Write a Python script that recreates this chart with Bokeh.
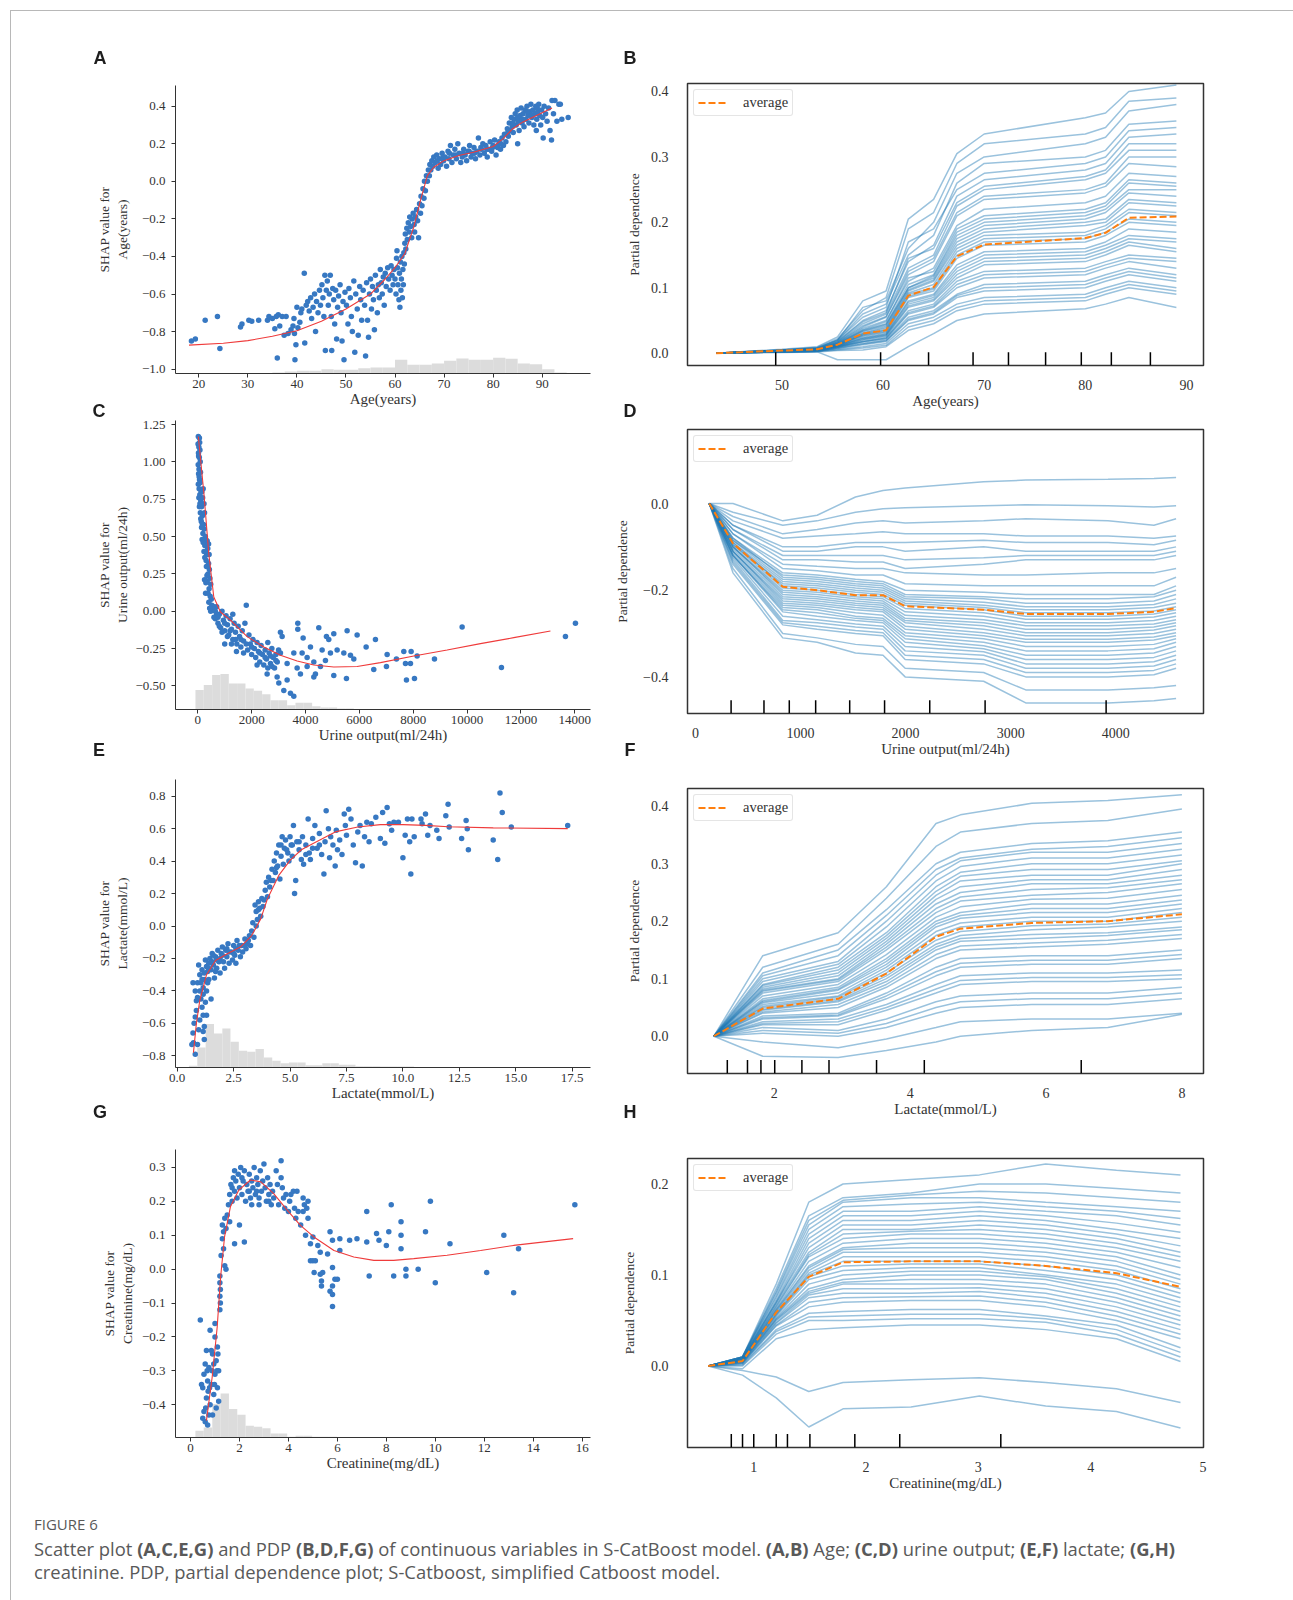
import math
from bokeh.plotting import figure
from bokeh.models import Range1d, FixedTicker, Legend, LegendItem, Div
from bokeh.layouts import column, row
from bokeh.embed import file_html
from bokeh.resources import INLINE

# ======================= DATA =======================
# ---- A: SHAP scatter, Age ----
A_pts = [(18.5,-0.85),(19.3,-0.84),(21.3,-0.74),(23.8,-0.72),(24.3,-0.89),(28.5,-0.775),(28.8,-0.76),(30.2,-0.74),(30.8,-0.745),(32.2,-0.74),
(34,-0.74),(34.3,-0.72),(35,-0.73),(35.5,-0.785),(35.8,-0.72),(36.2,-0.71),(36.5,-0.77),(36,-0.94),(37,-0.72),(37.4,-0.82),(37.8,-0.72),
(38.2,-0.81),(38.8,-0.79),(39.2,-0.77),(39.4,-0.73),(39.6,-0.95),(39.8,-0.87),(39.5,-0.81),
(40,-0.67),(40.2,-0.78),(40.6,-0.75),(40.8,-0.70),(41,-0.68),(41.5,-0.49),(41.6,-0.86),(41.9,-0.66),(42.2,-0.64),(42.5,-0.69),(42.8,-0.62),
(43,-0.73),(43.3,-0.67),(43.6,-0.60),(43.8,-0.80),(44,-0.64),(44.3,-0.70),(44.6,-0.58),(44.8,-0.66),(45.1,-0.55),(45.3,-0.62),(45.5,-0.72),
(45.7,-0.50),(45.8,-0.90),(46,-0.58),(46.2,-0.53),(46.4,-0.66),(46.6,-0.60),(46.8,-0.50),(47,-0.72),(47.1,-0.90),(47.3,-0.57),(47.5,-0.63),
(47.7,-0.76),(47.9,-0.58),(48.1,-0.84),(48.3,-0.67),(48.5,-0.61),(48.8,-0.55),(49,-0.70),(49.2,-0.85),(49.4,-0.64),(49.6,-0.95),(49.8,-0.59),
(50.1,-0.66),(50.4,-0.76),(50.6,-0.57),(50.9,-0.62),(51.1,-0.72),(51.3,-0.80),(51.6,-0.53),(51.8,-0.91),(52,-0.60),(52.3,-0.68),(52.5,-0.82),
(52.8,-0.56),(53,-0.63),(53.2,-0.74),(53.5,-0.58),(53.8,-0.66),(54,-0.93),(54.2,-0.54),(54.4,-0.74),(54.6,-0.83),(54.8,-0.60),(55,-0.52),
(55.2,-0.68),(55.4,-0.56),(55.6,-0.63),(55.8,-0.79),(56,-0.50),(56.2,-0.58),(56.4,-0.70),(56.6,-0.55),(56.8,-0.62),(57,-0.47),(57.2,-0.54),
(57.4,-0.60),(57.6,-0.51),(57.8,-0.66),(58,-0.49),(58.2,-0.56),(58.5,-0.46),(58.7,-0.52),(59,-0.58),(59.2,-0.45),(59.4,-0.50),(59.6,-0.55),
(59.8,-0.47),(60,-0.52),(60.2,-0.60),(60.3,-0.41),(60.4,-0.37),(60.5,-0.46),(60.6,-0.55),(60.8,-0.63),(60.9,-0.49),(61,-0.67),(61.1,-0.43),
(61.2,-0.58),(61.3,-0.52),(61.4,-0.40),(61.5,-0.62),(61.6,-0.47),(61.7,-0.55),(61.8,-0.38),(61.9,-0.44),
(62,-0.33),(62.1,-0.28),(62.2,-0.36),(62.4,-0.25),(62.5,-0.31),(62.7,-0.22),(62.9,-0.27),(63,-0.19),(63.2,-0.24),(63.4,-0.30),(63.5,-0.20),
(63.7,-0.17),(63.9,-0.23),(64,-0.27),(64.2,-0.19),(64.4,-0.15),(64.6,-0.21),(64.8,-0.30),(65,-0.12),(65.2,-0.17),(65.3,-0.08),(65.5,-0.13),
(65.7,-0.04),(65.9,-0.09),(66,0.0),(66.2,-0.05),(66.4,0.03),(66.6,0.0),(66.8,0.06),(67,0.03),(67.1,0.09),(67.3,0.06),(67.5,0.11),(67.7,0.08),
(67.9,0.13),(68.2,0.10),(68.5,0.14),(68.8,0.07),(69,0.12),(69.3,0.09),(69.6,0.15),(69.9,0.11),(70.2,0.13),(70.5,0.08),(70.8,0.16),(71,0.12),
(71.3,0.19),(71.6,0.10),(71.9,0.14),(72.2,0.17),(72.5,0.12),(72.8,0.20),(73.1,0.15),(73.4,0.10),(73.7,0.13),(74,0.17),(74.3,0.14),(74.6,0.11),
(74.9,0.16),(75.2,0.19),(75.5,0.13),(75.8,0.15),(76.1,0.18),(76.4,0.12),(76.7,0.16),(77,0.23),(77.3,0.14),(77.6,0.17),(77.9,0.20),(78.2,0.15),
(78.5,0.19),(78.8,0.13),(79.1,0.17),(79.4,0.21),(79.7,0.16),(80,0.19),(80.3,0.22),(80.6,0.14),(80.9,0.18),(81.2,0.21),(81.5,0.17),(81.8,0.23),
(82.1,0.19),(82.3,0.25),(82.6,0.21),(82.9,0.28),(83.1,0.24),(83.3,0.31),(83.5,0.27),(83.7,0.34),(83.9,0.29),(84.1,0.26),(84.3,0.33),(84.5,0.36),
(84.7,0.30),(84.9,0.38),(85.1,0.32),(85.3,0.27),(85.5,0.35),(85.7,0.39),(85.9,0.31),(86.1,0.36),(86.3,0.29),(86.5,0.38),(86.7,0.33),(86.9,0.40),
(87.1,0.35),(87.3,0.31),(87.5,0.37),(87.7,0.41),(87.9,0.34),(88.1,0.38),(88.3,0.30),(88.5,0.36),(88.7,0.40),(88.9,0.33),(89.1,0.37),(89.3,0.41),
(89.5,0.35),(89.7,0.30),(89.9,0.38),(90.1,0.34),(90.4,0.40),(90.7,0.36),(91,0.32),(91.3,0.39),(91.6,0.27),(91.9,0.22),(92,0.43),(92.3,0.36),
(92.6,0.43),(93,0.32),(93.4,0.41),(93.7,0.41),(94,0.33),(95.3,0.34),(90.2,0.23),(88.8,0.27),(85,0.20),
(68.6,0.11),(69.8,0.13),(71.1,0.15),(72.4,0.14),(73.9,0.15),(75.1,0.16),(76.2,0.15),(77.5,0.18),(78.7,0.17),(79.9,0.18),(81.0,0.19),(81.6,0.20),
(83.0,0.26),(84.0,0.31),(85.0,0.34),(86.0,0.33),(87.0,0.37),(88.0,0.35),(89.0,0.39)]
A_fit_x = [18, 25, 30, 35, 40, 45, 50, 55, 58, 60, 62, 63.8, 65.2, 66.6, 67.9, 70, 73, 76, 80, 82, 84, 86, 88, 92]
A_fit_y = [-0.872, -0.862, -0.848, -0.825, -0.795, -0.745, -0.68, -0.60, -0.52, -0.46, -0.385, -0.245, -0.10, 0.03, 0.075, 0.11, 0.137, 0.155, 0.185, 0.226, 0.28, 0.315, 0.34, 0.39]
A_hist_edges = [35, 37.5, 40, 42.5, 45, 47.5, 50, 52.5, 55, 57.5, 60, 62.5, 65, 67.5, 70, 72.5, 75, 77.5, 80, 82.5, 85, 87.5, 90, 92.5, 95]
A_hist_h = [3, 6, 8, 8, 13, 11, 11, 16, 18, 18, 41, 26, 26, 30, 38, 45, 41, 41, 47, 44, 30, 28, 13, 3]
A_hist_scale = 863

# ---- C: SHAP scatter, Urine output ----
C_pts = [(20,1.17),(60,1.16),(10,1.12),(40,1.10),(70,1.13),(25,1.06),(55,1.03),(80,1.08),(15,0.98),(45,0.95),(90,1.00),(30,0.92),(65,0.88),
(100,0.93),(20,0.85),(50,0.82),(85,0.86),(120,0.80),(40,0.76),(75,0.78),(110,0.74),(150,0.80),(60,0.70),(140,0.70),(95,0.66),(180,0.76),
(200,0.82),(230,0.72),(170,0.64),(130,0.60),(210,0.58),(250,0.66),(190,0.52),(240,0.55),(280,0.50),(160,0.48),(300,0.48),(260,0.44),
(320,0.44),(350,0.47),(290,0.40),(330,0.38),(370,0.42),(400,0.45),(310,0.34),(360,0.30),(400,0.32),(420,0.38),(380,0.25),(430,0.28),
(350,0.20),(300,0.19),(250,0.21),(290,0.12),(450,0.22),(420,0.15),(480,0.18),(460,0.10),(500,0.08),(520,0.04),(550,0.02),(480,0.00),
(600,0.03),(650,0.0),(700,-0.02),(650,-0.05),(700,0.03),(750,-0.08),(800,-0.02),(850,-0.11),(900,0.0),(950,-0.06),(1000,-0.13),(1050,-0.03),
(1100,-0.09),(1150,-0.16),(1200,-0.05),(1250,-0.12),(1300,-0.19),(1350,-0.08),(1400,-0.14),(1450,-0.22),(1500,-0.10),(1550,-0.17),(1600,-0.24),
(1650,-0.13),(1700,-0.20),(1750,-0.08),(1800,0.04),(1850,-0.26),(1900,-0.16),(1950,-0.22),(2000,-0.29),(2050,-0.19),(2100,-0.25),(2150,-0.31),
(2200,-0.21),(2250,-0.27),(2300,-0.34),(2350,-0.23),(2400,-0.29),(2450,-0.36),(2500,-0.26),(2550,-0.32),(2600,-0.21),(2650,-0.28),(2700,-0.35),
(2750,-0.25),(2800,-0.31),(2850,-0.38),(2900,-0.29),(2950,-0.34),(3000,-0.26),(1000,-0.22),(1300,-0.02),(800,-0.10),(1436,-0.27),(1100,-0.17),
(1700,-0.28),(2200,-0.36),(2600,-0.38),(900,-0.14),(1250,-0.22),(30,1.04),(50,0.90),(80,0.72),(110,0.62),(140,0.56),(170,0.58),(200,0.46),
(230,0.40),(260,0.36),(320,0.30),(340,0.24),(380,0.12),(410,0.06),(440,0.02),(600,-0.04),(750,-0.04),(1000,-0.08),(1200,-0.13),
(1400,-0.19),(1600,-0.19),(1800,-0.22),(2000,-0.24),(2300,-0.28),(2500,-0.31),(2700,-0.30),(2900,-0.33),
(3070,-0.14),(3132,-0.17),(3713,-0.08),(3713,-0.12),(4493,-0.11),(4778,-0.17),(5050,-0.15),(5545,-0.13),(5917,-0.16),(6597,-0.19),(6251,-0.24),
(6535,-0.39),(5793,-0.32),(5520,-0.45),(5050,-0.43),(3911,-0.18),(3565,-0.28),(4060,-0.31),(4308,-0.34),(4617,-0.26),(4926,-0.28),(3317,-0.46),
(3008,-0.48),(3441,-0.55),(3194,-0.53),(3565,-0.57),(2946,-0.44),(3812,-0.42),(4308,-0.44),(4555,-0.37),(4864,-0.19),(5174,-0.26),(5422,-0.28),
(5669,-0.295),(3317,-0.35),(3689,-0.38),(4060,-0.37),(4369,-0.42),(4740,-0.33),(2760,-0.37),(2575,-0.42),(3070,-0.28),(4184,-0.24),(3874,-0.28),
(7031,-0.29),(7006,-0.37),(7377,-0.32),(7650,-0.27),(7922,-0.27),(8145,-0.30),(8789,-0.32),(7712,-0.35),(7898,-0.35),(7749,-0.46),(8046,-0.45),
(9816,-0.105),(11276,-0.377),(13653,-0.17),(14024,-0.08)]
C_fit_x = [20, 223, 408, 594, 842, 1213, 1832, 2451, 3070, 3689, 4308, 5050, 5917, 6783, 8021, 9259, 10497, 11734, 13096]
C_fit_y = [1.17, 0.797, 0.385, 0.095, -0.005, -0.06, -0.17, -0.24, -0.295, -0.333, -0.36, -0.373, -0.37, -0.344, -0.30, -0.26, -0.217, -0.177, -0.132]
C_hist_edges = [-87, 222, 532, 841, 1151, 1460, 1770, 2079, 2389, 2698, 3008, 3317, 3627, 3936, 4246, 4556, 4865, 5175, 5484, 5794]
C_hist_h = [58, 73, 103, 106, 78, 78, 63, 56, 46, 28, 28, 13, 20, 20, 10, 6, 6, 3, 3]
C_hist_scale = 865

# ---- E: SHAP scatter, Lactate ----
E_pts = [(0.8,-0.79),(0.7,-0.66),(0.65,-0.73),(0.72,-0.72),(0.75,-0.60),(0.8,-0.56),(0.9,-0.73),(0.85,-0.52),(0.95,-0.64),(0.7,-0.35),
(0.8,-0.40),(0.9,-0.35),(0.85,-0.46),(1.0,-0.58),(1.05,-0.45),(1.0,-0.30),(0.95,-0.24),(1.1,-0.50),(1.15,-0.38),(1.2,-0.62),(1.1,-0.27),
(1.25,-0.47),(1.2,-0.33),(1.3,-0.55),(1.3,-0.40),(1.35,-0.28),(1.25,-0.21),(1.4,-0.33),(1.45,-0.20),(1.5,-0.45),(1.5,-0.27),(1.55,-0.17),
(1.6,-0.24),(1.65,-0.32),(1.7,-0.19),(1.75,-0.26),(1.8,-0.15),(1.85,-0.22),(1.9,-0.29),(1.95,-0.17),(2.0,-0.13),(2.05,-0.22),(2.1,-0.26),
(2.15,-0.15),(2.2,-0.19),(2.25,-0.11),(2.3,-0.23),(2.4,-0.16),(2.45,-0.21),(2.5,-0.12),(2.55,-0.18),(2.6,-0.23),(2.65,-0.09),(2.7,-0.15),
(2.8,-0.19),(2.85,-0.12),(2.9,-0.16),(3.0,-0.08),(3.05,-0.14),(3.1,-0.11),(3.2,-0.06),(3.25,-0.12),(3.3,-0.03),(3.35,0.02),(3.4,-0.07),
(3.45,0.13),(3.5,0.09),(3.55,0.04),(3.6,0.15),(3.65,0.11),(3.7,0.06),(3.75,0.17),(3.8,0.12),(3.9,0.22),(3.95,0.27),(4.0,0.18),(4.05,0.30),
(4.1,0.24),(4.2,0.35),(4.25,0.28),(4.3,0.40),(4.35,0.33),(4.4,0.45),(4.45,0.37),(4.5,0.50),(4.55,0.29),(4.6,0.43),(4.65,0.55),(4.7,0.38),
(4.75,0.48),(4.8,0.53),(4.9,0.45),(4.95,0.40),(5.0,0.55),(5.05,0.50),(5.1,0.43),(5.15,0.62),(5.2,0.20),(5.25,0.28),(5.3,0.52),(5.4,0.47),
(5.5,0.41),(5.55,0.55),(5.6,0.38),(5.7,0.50),(5.8,0.66),(5.85,0.45),(5.9,0.41),(6.0,0.54),(6.1,0.62),(6.2,0.48),(6.3,0.57),(6.4,0.44),
(6.5,0.32),(6.55,0.52),(6.6,0.71),(6.7,0.60),(6.75,0.42),(6.8,0.55),(6.9,0.50),(7.0,0.37),(7.05,0.59),(7.1,0.47),(7.2,0.53),(7.3,0.44),
(7.4,0.69),(7.45,0.62),(7.5,0.56),(7.6,0.72),(7.7,0.66),(7.8,0.50),(7.9,0.39),(8.0,0.58),(8.1,0.62),(8.2,0.37),(8.3,0.55),(8.4,0.64),
(8.5,0.52),(8.6,0.63),(8.8,0.67),(9.0,0.54),(9.1,0.70),(9.2,0.51),(9.3,0.73),(9.4,0.63),(9.5,0.59),(9.6,0.64),(9.8,0.64),(10.0,0.42),
(10.1,0.56),(10.2,0.66),(10.3,0.52),(10.35,0.32),(10.4,0.66),(10.5,0.55),(10.8,0.66),(10.85,0.63),(11.0,0.69),(11.1,0.56),(11.2,0.62),
(11.5,0.59),(11.6,0.54),(11.9,0.68),(12.0,0.75),(12.05,0.61),(12.6,0.54),(12.8,0.65),(12.85,0.60),(12.9,0.47),(14.0,0.53),(14.2,0.41),
(14.3,0.82),(14.4,0.70),(14.8,0.61),(17.3,0.62),(1.05,-0.35),(1.15,-0.42),(1.2,-0.29),(1.3,-0.25),(1.35,-0.35),(1.4,-0.23),(1.0,-0.40),
(1.1,-0.33),(0.9,-0.44),(1.15,-0.55),(1.2,-0.70),(1.15,-0.65),(1.6,-0.18),(1.9,-0.20),(2.2,-0.14),(2.6,-0.14),(3.0,-0.12),(1.7,-0.28),
(1.4,-0.26),(1.55,-0.22),(1.75,-0.21),(2.0,-0.18),(2.3,-0.16),(2.5,-0.17),(2.75,-0.12),(3.15,-0.09),(3.5,0.0),(3.6,0.10),(3.85,0.16),
(4.15,0.28),(4.4,0.36),(4.6,0.50),(4.85,0.47),(5.1,0.50),(5.4,0.52),(5.7,0.44),(6.0,0.48),(6.3,0.50)]
E_fit_x = [0.72, 0.85, 1.0, 1.3, 1.7, 2.2, 2.8, 3.3, 3.7, 4.0, 4.5, 5.0, 5.5, 6.0, 7.0, 8.0, 9.0, 10.0, 11.0, 12.0, 14.0, 17.3]
E_fit_y = [-0.78, -0.60, -0.46, -0.30, -0.213, -0.172, -0.13, -0.059, 0.044, 0.168, 0.312, 0.405, 0.47, 0.507, 0.58, 0.61, 0.625, 0.625, 0.62, 0.612, 0.605, 0.60]
E_hist_edges = [0.52, 0.89, 1.26, 1.63, 2.0, 2.36, 2.73, 3.1, 3.47, 3.84, 4.21, 4.58, 4.95, 5.32, 5.69, 6.06, 6.43, 6.8, 7.16, 7.53, 7.9, 8.27, 8.64, 9.01, 9.38, 9.75, 10.12, 10.49]
E_hist_h = [5, 60, 130, 102, 117, 77, 50, 47, 55, 30, 20, 13, 15, 15, 7, 7, 13, 13, 8, 8, 4, 4, 4, 3, 3, 3, 3]
E_hist_scale = 862

# ---- G: SHAP scatter, Creatinine ----
G_pts = [(0.4,-0.15),(0.5,-0.35),(0.55,-0.42),(0.6,-0.28),(0.6,-0.45),(0.65,-0.38),(0.7,-0.33),(0.7,-0.46),(0.75,-0.29),(0.8,-0.18),
(0.8,-0.40),(0.85,-0.34),(0.9,-0.25),(0.9,-0.43),(0.95,-0.37),(1.0,-0.20),(1.0,-0.31),(1.0,-0.16),(1.05,-0.41),(1.05,-0.27),(1.1,-0.35),
(1.1,-0.23),(1.15,-0.30),(1.15,-0.39),(0.55,-0.31),(0.45,-0.34),(0.65,-0.24),(0.75,-0.43),(0.85,-0.24),(0.95,-0.28),(0.5,-0.44),(0.72,-0.36),
(0.62,-0.41),(0.68,-0.30),(0.78,-0.35),(0.88,-0.30),(0.98,-0.34),(1.08,-0.30),(1.12,-0.25),
(1.2,-0.04),(1.2,-0.08),(1.2,-0.12),(1.22,-0.06),(1.22,-0.10),(1.2,-0.02),
(1.25,0.04),(1.3,0.09),(1.3,0.13),(1.35,0.06),(1.4,0.01),(1.45,0.0),(1.35,0.11),(1.4,0.15),(1.45,0.12),(1.5,0.16),(1.55,0.19),(1.6,0.14),
(1.6,0.22),(1.65,0.25),(1.7,0.20),(1.75,0.27),(1.8,0.23),(1.8,0.29),(1.85,0.26),(1.9,0.21),(1.95,0.28),(2.0,0.13),(1.8,0.075),(2.2,0.08),
(2.0,0.24),(2.05,0.30),(2.1,0.22),(2.15,0.26),(2.2,0.29),(2.25,0.20),(2.3,0.25),(2.35,0.23),(2.4,0.28),(2.45,0.21),(2.5,0.26),(2.55,0.24),
(2.6,0.30),(2.65,0.22),(2.7,0.27),(2.75,0.25),(2.8,0.21),(2.85,0.29),(2.9,0.23),(2.95,0.26),(3.0,0.31),(3.05,0.24),(3.1,0.20),(3.15,0.27),
(3.2,0.22),(3.25,0.25),(3.3,0.19),(3.35,0.23),(3.4,0.21),(3.5,0.29),(3.55,0.25),(3.6,0.19),(3.7,0.32),(3.7,0.27),(3.75,0.24),(3.8,0.21),
(3.85,0.18),(3.9,0.22),(4.0,0.17),(4.05,0.20),(4.1,0.22),(4.2,0.23),(4.25,0.18),(4.3,0.15),(4.35,0.23),(4.4,0.17),(4.5,0.13),(4.6,0.21),
(4.65,0.19),(4.75,0.18),(4.8,0.20),(4.8,0.15),(4.6,0.17),(2.5,0.19),(2.8,0.19),(3.2,0.20),(1.7,0.24),(2.1,0.27),(2.4,0.23),(2.7,0.23),
(4.7,0.10),(4.9,0.075),(5.0,0.095),(4.9,0.025),(5.0,0.025),(5.1,0.025),(5.05,-0.01),(5.2,0.07),(5.3,0.05),(5.3,-0.015),(5.35,-0.035),
(5.35,-0.05),(5.4,-0.01),(5.6,0.045),(5.7,0.11),(5.7,-0.065),(5.8,0.085),(5.8,0.005),(5.8,-0.05),(5.8,-0.075),(5.8,-0.11),(5.9,-0.03),
(6.0,-0.03),(6.1,0.09),(6.1,0.055),(6.5,0.085),(6.8,0.09),
(7.2,0.17),(7.2,0.08),(7.3,-0.02),(7.6,0.105),(7.7,0.085),(8.0,0.07),(8.1,0.11),(8.2,0.19),(8.3,-0.02),(8.6,0.14),(8.6,0.10),(8.6,0.06),
(8.8,0.0),(8.8,-0.02),(9.3,0.0),(9.6,0.11),(9.8,0.20),(10.0,-0.04),(10.6,0.075),(12.1,-0.01),(12.8,0.10),(13.2,-0.07),(13.4,0.06),(15.7,0.19)]
G_fit_x = [0.65, 0.885, 1.09, 1.23, 1.39, 1.63, 1.97, 2.45, 2.86, 3.40, 3.95, 4.49, 5.04, 5.86, 6.67, 7.49, 8.3, 9.12, 10.48, 11.85, 13.2, 15.63]
G_fit_y = [-0.447, -0.319, -0.171, -0.023, 0.095, 0.184, 0.233, 0.263, 0.258, 0.223, 0.174, 0.129, 0.095, 0.055, 0.036, 0.026, 0.026, 0.031, 0.041, 0.055, 0.070, 0.09]
G_hist_edges = [0.2, 0.54, 0.89, 1.23, 1.57, 1.91, 2.25, 2.59, 2.93, 3.27, 3.61, 3.95, 4.29, 4.63, 4.97, 5.31, 5.65, 5.99]
G_hist_h = [20, 30, 100, 132, 85, 68, 35, 32, 28, 12, 12, 2, 5, 5, 2, 2, 2]
G_hist_scale = 862

# ---- B: PDP, Age ----
B_grid = [43.5, 50, 53.5, 55.5, 58, 60.3, 62.5, 65, 67.3, 70, 80, 82, 84.3, 89]
B_avg = [0, 0.004, 0.006, 0.013, 0.030, 0.035, 0.088, 0.101, 0.148, 0.166, 0.176, 0.184, 0.207, 0.209]
B_ice = [
 [0, 0.006, 0.01, 0.025, 0.08, 0.095, 0.205, 0.235, 0.305, 0.335, 0.36, 0.367, 0.40, 0.41],
 [0, 0.005, 0.009, 0.022, 0.065, 0.085, 0.19, 0.215, 0.29, 0.32, 0.335, 0.345, 0.385, 0.39],
 [0, 0.005, 0.008, 0.02, 0.07, 0.08, 0.16, 0.20, 0.275, 0.30, 0.32, 0.33, 0.37, 0.38],
 [0, 0.005, 0.008, 0.02, 0.06, 0.075, 0.15, 0.18, 0.26, 0.29, 0.30, 0.31, 0.35, 0.355],
 [0, 0.005, 0.008, 0.02, 0.055, 0.07, 0.17, 0.19, 0.25, 0.275, 0.29, 0.30, 0.34, 0.345],
 [0, 0.004, 0.007, 0.018, 0.05, 0.065, 0.14, 0.165, 0.24, 0.265, 0.28, 0.29, 0.33, 0.335],
 [0, 0.004, 0.007, 0.018, 0.048, 0.062, 0.145, 0.16, 0.23, 0.255, 0.27, 0.28, 0.32, 0.32],
 [0, 0.004, 0.007, 0.017, 0.045, 0.06, 0.13, 0.15, 0.225, 0.25, 0.265, 0.275, 0.31, 0.31],
 [0, 0.004, 0.006, 0.016, 0.042, 0.056, 0.125, 0.145, 0.215, 0.24, 0.25, 0.26, 0.30, 0.30],
 [0, 0.004, 0.006, 0.016, 0.04, 0.055, 0.12, 0.14, 0.21, 0.235, 0.245, 0.255, 0.29, 0.285],
 [0, 0.004, 0.006, 0.015, 0.038, 0.05, 0.11, 0.13, 0.195, 0.22, 0.23, 0.24, 0.275, 0.27],
 [0, 0.004, 0.006, 0.015, 0.036, 0.048, 0.115, 0.125, 0.19, 0.21, 0.22, 0.23, 0.265, 0.26],
 [0, 0.004, 0.006, 0.014, 0.035, 0.045, 0.105, 0.12, 0.185, 0.205, 0.215, 0.225, 0.26, 0.255],
 [0, 0.003, 0.006, 0.014, 0.034, 0.044, 0.10, 0.118, 0.18, 0.20, 0.21, 0.22, 0.25, 0.25],
 [0, 0.003, 0.006, 0.013, 0.033, 0.042, 0.10, 0.115, 0.175, 0.195, 0.205, 0.215, 0.245, 0.24],
 [0, 0.003, 0.005, 0.013, 0.031, 0.04, 0.097, 0.112, 0.17, 0.19, 0.20, 0.205, 0.235, 0.23],
 [0, 0.003, 0.005, 0.013, 0.03, 0.038, 0.095, 0.11, 0.165, 0.185, 0.195, 0.20, 0.23, 0.225],
 [0, 0.003, 0.005, 0.012, 0.029, 0.036, 0.092, 0.105, 0.16, 0.18, 0.185, 0.195, 0.22, 0.215],
 [0, 0.003, 0.005, 0.012, 0.028, 0.035, 0.09, 0.10, 0.155, 0.175, 0.18, 0.19, 0.215, 0.21],
 [0, 0.003, 0.005, 0.012, 0.027, 0.033, 0.087, 0.098, 0.15, 0.17, 0.175, 0.185, 0.205, 0.20],
 [0, 0.003, 0.005, 0.012, 0.026, 0.032, 0.085, 0.095, 0.145, 0.165, 0.17, 0.18, 0.20, 0.195],
 [0, 0.003, 0.005, 0.011, 0.024, 0.03, 0.08, 0.09, 0.135, 0.155, 0.16, 0.17, 0.19, 0.185],
 [0, 0.003, 0.004, 0.011, 0.023, 0.029, 0.078, 0.088, 0.13, 0.15, 0.155, 0.165, 0.18, 0.175],
 [0, 0.003, 0.004, 0.011, 0.022, 0.028, 0.075, 0.085, 0.125, 0.145, 0.15, 0.16, 0.175, 0.17],
 [0, 0.003, 0.004, 0.01, 0.021, 0.027, 0.072, 0.082, 0.12, 0.14, 0.145, 0.155, 0.17, 0.16],
 [0, 0.003, 0.004, 0.01, 0.02, 0.026, 0.07, 0.08, 0.115, 0.135, 0.14, 0.15, 0.165, 0.155],
 [0, 0.002, 0.004, 0.01, 0.018, 0.024, 0.065, 0.075, 0.11, 0.125, 0.13, 0.14, 0.15, 0.145],
 [0, 0.002, 0.004, 0.009, 0.018, 0.023, 0.062, 0.072, 0.105, 0.12, 0.125, 0.135, 0.145, 0.14],
 [0, 0.002, 0.004, 0.009, 0.017, 0.022, 0.06, 0.07, 0.10, 0.115, 0.12, 0.13, 0.14, 0.13],
 [0, 0.002, 0.003, 0.008, 0.015, 0.02, 0.055, 0.065, 0.09, 0.105, 0.11, 0.12, 0.13, 0.12],
 [0, 0.002, 0.003, 0.008, 0.014, 0.019, 0.052, 0.062, 0.088, 0.10, 0.105, 0.115, 0.125, 0.115],
 [0, 0.002, 0.003, 0.007, 0.013, 0.018, 0.05, 0.06, 0.085, 0.095, 0.10, 0.11, 0.12, 0.11],
 [0, 0.002, 0.003, 0.006, 0.01, 0.015, 0.045, 0.055, 0.075, 0.085, 0.09, 0.10, 0.11, 0.10],
 [0, 0.002, 0.003, 0.005, 0.008, 0.012, 0.04, 0.05, 0.07, 0.08, 0.085, 0.095, 0.105, 0.095],
 [0, 0.002, 0.002, 0.004, 0.005, 0.01, 0.035, 0.045, 0.065, 0.075, 0.08, 0.09, 0.10, 0.09],
 [0, 0.001, 0.002, -0.01, -0.01, -0.01, 0.01, 0.03, 0.05, 0.06, 0.068, 0.075, 0.085, 0.07]]
B_deciles = [49.39, 59.76, 64.5, 68.9, 72.4, 76.07, 79.6, 82.57, 86.43]

# ---- D: PDP, Urine output ----
D_grid = [131, 357, 831, 1158, 1523, 1785, 1996, 2743, 3144, 3927, 4364, 4575]
D_avg = [0, -0.092, -0.192, -0.200, -0.2115, -0.2115, -0.237, -0.245, -0.255, -0.255, -0.25, -0.241]
D_ice = [
 [0, 0.0, -0.04, -0.027, 0.015, 0.03, 0.036, 0.05, 0.054, 0.056, 0.058, 0.06],
 [0, -0.02, -0.05, -0.04, -0.02, -0.012, -0.01, -0.005, -0.003, -0.005, -0.008, -0.005],
 [0, -0.03, -0.07, -0.06, -0.045, -0.04, -0.045, -0.04, -0.035, -0.04, -0.05, -0.035],
 [0, -0.04, -0.08, -0.075, -0.07, -0.065, -0.07, -0.07, -0.075, -0.075, -0.08, -0.075],
 [0, -0.05, -0.10, -0.10, -0.09, -0.09, -0.09, -0.085, -0.09, -0.09, -0.095, -0.085],
 [0, -0.05, -0.11, -0.11, -0.10, -0.10, -0.11, -0.10, -0.11, -0.11, -0.11, -0.10],
 [0, -0.06, -0.12, -0.12, -0.12, -0.12, -0.13, -0.125, -0.12, -0.12, -0.12, -0.11],
 [0, -0.06, -0.13, -0.13, -0.135, -0.135, -0.15, -0.14, -0.13, -0.13, -0.13, -0.12],
 [0, -0.07, -0.14, -0.145, -0.15, -0.15, -0.16, -0.165, -0.165, -0.16, -0.16, -0.15],
 [0, -0.07, -0.15, -0.155, -0.165, -0.165, -0.185, -0.19, -0.19, -0.19, -0.19, -0.17],
 [0, -0.08, -0.16, -0.165, -0.175, -0.18, -0.20, -0.205, -0.21, -0.21, -0.21, -0.19],
 [0, -0.085, -0.165, -0.17, -0.18, -0.185, -0.21, -0.215, -0.22, -0.22, -0.215, -0.20],
 [0, -0.08, -0.17, -0.175, -0.185, -0.19, -0.215, -0.22, -0.23, -0.23, -0.225, -0.21],
 [0, -0.085, -0.175, -0.18, -0.19, -0.195, -0.22, -0.228, -0.238, -0.238, -0.233, -0.22],
 [0, -0.09, -0.18, -0.185, -0.195, -0.20, -0.225, -0.235, -0.245, -0.245, -0.24, -0.23],
 [0, -0.095, -0.185, -0.19, -0.20, -0.205, -0.23, -0.24, -0.252, -0.252, -0.248, -0.238],
 [0, -0.09, -0.19, -0.195, -0.205, -0.21, -0.235, -0.245, -0.26, -0.26, -0.255, -0.245],
 [0, -0.095, -0.195, -0.20, -0.21, -0.215, -0.242, -0.252, -0.267, -0.267, -0.262, -0.252],
 [0, -0.10, -0.20, -0.205, -0.215, -0.22, -0.25, -0.26, -0.275, -0.275, -0.27, -0.26],
 [0, -0.10, -0.205, -0.21, -0.22, -0.225, -0.258, -0.268, -0.282, -0.282, -0.278, -0.268],
 [0, -0.10, -0.21, -0.215, -0.225, -0.23, -0.265, -0.275, -0.29, -0.29, -0.285, -0.275],
 [0, -0.105, -0.215, -0.22, -0.23, -0.235, -0.27, -0.282, -0.298, -0.298, -0.292, -0.282],
 [0, -0.11, -0.22, -0.225, -0.235, -0.24, -0.275, -0.29, -0.305, -0.305, -0.30, -0.29],
 [0, -0.11, -0.225, -0.23, -0.24, -0.245, -0.283, -0.298, -0.313, -0.313, -0.308, -0.298],
 [0, -0.11, -0.23, -0.235, -0.245, -0.25, -0.29, -0.305, -0.32, -0.32, -0.315, -0.305],
 [0, -0.115, -0.235, -0.24, -0.252, -0.258, -0.298, -0.312, -0.33, -0.33, -0.325, -0.312],
 [0, -0.12, -0.24, -0.245, -0.26, -0.265, -0.305, -0.32, -0.34, -0.34, -0.335, -0.32],
 [0, -0.12, -0.245, -0.252, -0.265, -0.27, -0.312, -0.328, -0.35, -0.35, -0.345, -0.33],
 [0, -0.12, -0.25, -0.26, -0.27, -0.275, -0.32, -0.335, -0.36, -0.36, -0.355, -0.34],
 [0, -0.125, -0.26, -0.268, -0.278, -0.283, -0.33, -0.342, -0.37, -0.37, -0.365, -0.35],
 [0, -0.13, -0.27, -0.275, -0.285, -0.29, -0.34, -0.35, -0.38, -0.38, -0.375, -0.36],
 [0, -0.135, -0.275, -0.283, -0.293, -0.298, -0.35, -0.36, -0.39, -0.39, -0.385, -0.37],
 [0, -0.14, -0.28, -0.29, -0.30, -0.305, -0.36, -0.37, -0.40, -0.40, -0.395, -0.38],
 [0, -0.15, -0.30, -0.31, -0.325, -0.33, -0.38, -0.39, -0.43, -0.43, -0.425, -0.42],
 [0, -0.16, -0.31, -0.32, -0.345, -0.35, -0.40, -0.41, -0.46, -0.46, -0.455, -0.45]]
D_deciles = [339, 652, 893, 1144, 1468, 1800, 2230, 2757, 3909]

# ---- F: PDP, Lactate ----
F_grid = [1.11, 1.83, 2.94, 3.65, 4.38, 4.74, 5.79, 6.91, 8.0]
F_avg = [0, 0.048, 0.065, 0.109, 0.173, 0.187, 0.197, 0.200, 0.212]
F_ice = [
 [0, 0.14, 0.18, 0.26, 0.37, 0.385, 0.405, 0.41, 0.42],
 [0, 0.12, 0.16, 0.24, 0.33, 0.355, 0.37, 0.375, 0.395],
 [0, 0.11, 0.15, 0.22, 0.30, 0.32, 0.335, 0.34, 0.355],
 [0, 0.105, 0.14, 0.21, 0.29, 0.31, 0.325, 0.33, 0.345],
 [0, 0.10, 0.13, 0.20, 0.28, 0.305, 0.32, 0.32, 0.335],
 [0, 0.095, 0.125, 0.19, 0.27, 0.295, 0.31, 0.31, 0.325],
 [0, 0.09, 0.12, 0.18, 0.26, 0.285, 0.30, 0.30, 0.315],
 [0, 0.088, 0.115, 0.175, 0.252, 0.278, 0.29, 0.29, 0.305],
 [0, 0.085, 0.11, 0.17, 0.245, 0.27, 0.28, 0.28, 0.30],
 [0, 0.082, 0.105, 0.165, 0.238, 0.26, 0.272, 0.272, 0.29],
 [0, 0.08, 0.10, 0.16, 0.23, 0.25, 0.265, 0.265, 0.28],
 [0, 0.078, 0.098, 0.155, 0.222, 0.242, 0.255, 0.258, 0.272],
 [0, 0.075, 0.095, 0.15, 0.215, 0.235, 0.245, 0.25, 0.265],
 [0, 0.07, 0.09, 0.142, 0.207, 0.225, 0.238, 0.24, 0.255],
 [0, 0.065, 0.085, 0.135, 0.20, 0.215, 0.23, 0.23, 0.245],
 [0, 0.062, 0.082, 0.13, 0.195, 0.21, 0.222, 0.222, 0.237],
 [0, 0.06, 0.08, 0.125, 0.19, 0.205, 0.215, 0.215, 0.23],
 [0, 0.058, 0.075, 0.12, 0.182, 0.197, 0.207, 0.207, 0.222],
 [0, 0.055, 0.07, 0.115, 0.175, 0.19, 0.20, 0.20, 0.215],
 [0, 0.052, 0.068, 0.11, 0.167, 0.182, 0.192, 0.195, 0.207],
 [0, 0.05, 0.065, 0.105, 0.16, 0.175, 0.185, 0.19, 0.20],
 [0, 0.047, 0.062, 0.10, 0.155, 0.17, 0.177, 0.18, 0.19],
 [0, 0.045, 0.06, 0.095, 0.15, 0.165, 0.17, 0.175, 0.185],
 [0, 0.042, 0.055, 0.09, 0.142, 0.157, 0.162, 0.167, 0.177],
 [0, 0.04, 0.05, 0.085, 0.135, 0.15, 0.155, 0.16, 0.17],
 [0, 0.035, 0.04, 0.075, 0.12, 0.135, 0.14, 0.14, 0.15],
 [0, 0.032, 0.037, 0.07, 0.112, 0.127, 0.132, 0.132, 0.142],
 [0, 0.03, 0.035, 0.065, 0.105, 0.12, 0.125, 0.125, 0.135],
 [0, 0.025, 0.03, 0.055, 0.09, 0.105, 0.11, 0.11, 0.115],
 [0, 0.022, 0.025, 0.05, 0.082, 0.097, 0.102, 0.102, 0.107],
 [0, 0.02, 0.02, 0.045, 0.075, 0.09, 0.095, 0.095, 0.10],
 [0, 0.015, 0.01, 0.03, 0.06, 0.07, 0.075, 0.075, 0.085],
 [0, 0.01, 0.005, 0.022, 0.05, 0.06, 0.065, 0.065, 0.075],
 [0, 0.005, 0.0, 0.015, 0.04, 0.05, 0.055, 0.055, 0.065],
 [0, -0.01, -0.02, -0.005, 0.015, 0.025, 0.03, 0.03, 0.04],
 [0, -0.035, -0.037, -0.025, -0.01, 0.0, 0.01, 0.015, 0.038]]
F_deciles = [1.308, 1.605, 1.803, 2.006, 2.406, 2.805, 3.505, 4.208, 6.518]

# ---- H: PDP, Creatinine ----
H_grid = [0.594, 0.90, 1.2, 1.49, 1.795, 2.4, 3.01, 3.60, 4.23, 4.80]
H_avg = [0, 0.0055, 0.059, 0.098, 0.114, 0.115, 0.115, 0.110, 0.102, 0.087]
H_ice = [
 [0, 0.01, 0.09, 0.18, 0.20, 0.205, 0.21, 0.222, 0.215, 0.21],
 [0, 0.01, 0.085, 0.165, 0.185, 0.19, 0.20, 0.20, 0.195, 0.19],
 [0, 0.01, 0.082, 0.16, 0.182, 0.188, 0.192, 0.19, 0.185, 0.18],
 [0, 0.01, 0.08, 0.155, 0.18, 0.185, 0.185, 0.18, 0.175, 0.17],
 [0, 0.01, 0.077, 0.15, 0.175, 0.178, 0.18, 0.175, 0.17, 0.162],
 [0, 0.01, 0.075, 0.145, 0.17, 0.17, 0.175, 0.17, 0.165, 0.155],
 [0, 0.009, 0.072, 0.14, 0.165, 0.165, 0.17, 0.165, 0.157, 0.147],
 [0, 0.009, 0.07, 0.135, 0.16, 0.16, 0.165, 0.16, 0.15, 0.14],
 [0, 0.009, 0.07, 0.13, 0.155, 0.155, 0.16, 0.155, 0.145, 0.132],
 [0, 0.008, 0.068, 0.125, 0.15, 0.15, 0.155, 0.15, 0.14, 0.125],
 [0, 0.008, 0.066, 0.122, 0.145, 0.148, 0.15, 0.145, 0.135, 0.12],
 [0, 0.008, 0.065, 0.12, 0.14, 0.145, 0.145, 0.14, 0.13, 0.115],
 [0, 0.008, 0.063, 0.115, 0.135, 0.14, 0.14, 0.135, 0.125, 0.108],
 [0, 0.007, 0.062, 0.11, 0.13, 0.135, 0.135, 0.13, 0.12, 0.10],
 [0, 0.007, 0.061, 0.108, 0.128, 0.13, 0.13, 0.125, 0.115, 0.095],
 [0, 0.007, 0.06, 0.105, 0.125, 0.125, 0.125, 0.12, 0.11, 0.09],
 [0, 0.007, 0.058, 0.102, 0.12, 0.12, 0.12, 0.115, 0.105, 0.085],
 [0, 0.006, 0.057, 0.10, 0.115, 0.115, 0.115, 0.11, 0.10, 0.08],
 [0, 0.006, 0.056, 0.098, 0.11, 0.112, 0.112, 0.105, 0.095, 0.075],
 [0, 0.006, 0.055, 0.095, 0.105, 0.108, 0.108, 0.10, 0.09, 0.07],
 [0, 0.006, 0.053, 0.09, 0.10, 0.104, 0.104, 0.098, 0.085, 0.065],
 [0, 0.005, 0.052, 0.085, 0.095, 0.10, 0.10, 0.095, 0.08, 0.06],
 [0, 0.005, 0.051, 0.082, 0.092, 0.095, 0.095, 0.09, 0.075, 0.055],
 [0, 0.005, 0.05, 0.08, 0.09, 0.09, 0.09, 0.085, 0.07, 0.05],
 [0, 0.004, 0.048, 0.078, 0.085, 0.085, 0.086, 0.08, 0.065, 0.045],
 [0, 0.004, 0.047, 0.075, 0.08, 0.08, 0.082, 0.075, 0.06, 0.04],
 [0, 0.003, 0.045, 0.07, 0.075, 0.076, 0.077, 0.07, 0.055, 0.035],
 [0, 0.003, 0.044, 0.065, 0.07, 0.072, 0.072, 0.065, 0.05, 0.03],
 [0, 0.002, 0.04, 0.058, 0.06, 0.062, 0.062, 0.055, 0.045, 0.02],
 [0, 0.001, 0.038, 0.054, 0.055, 0.057, 0.057, 0.052, 0.04, 0.015],
 [0, 0.0, 0.035, 0.05, 0.05, 0.052, 0.052, 0.048, 0.035, 0.01],
 [0, -0.003, 0.03, 0.04, 0.042, 0.045, 0.045, 0.04, 0.03, 0.005],
 [0, -0.005, -0.012, -0.028, -0.018, -0.015, -0.013, -0.018, -0.025, -0.04],
 [0, -0.01, -0.035, -0.067, -0.047, -0.045, -0.033, -0.044, -0.05, -0.068]]
H_deciles = [0.80, 0.90, 1.0, 1.2, 1.3, 1.5, 1.9, 2.3, 3.2]

# ---- ticks ----
A_xticks = [20, 30, 40, 50, 60, 70, 80, 90]
A_yticks = [-1.0, -0.8, -0.6, -0.4, -0.2, 0.0, 0.2, 0.4]
C_xticks = [0, 2000, 4000, 6000, 8000, 10000, 12000, 14000]
C_yticks = [-0.5, -0.25, 0.0, 0.25, 0.5, 0.75, 1.0, 1.25]
E_xticks = [0.0, 2.5, 5.0, 7.5, 10.0, 12.5, 15.0, 17.5]
E_yticks = [-0.8, -0.6, -0.4, -0.2, 0.0, 0.2, 0.4, 0.6, 0.8]
G_xticks = [0, 2, 4, 6, 8, 10, 12, 14, 16]
G_yticks = [-0.4, -0.3, -0.2, -0.1, 0.0, 0.1, 0.2, 0.3]
B_xticks = [50, 60, 70, 80, 90]
B_yticks = [0.0, 0.1, 0.2, 0.3, 0.4]
D_xticks = [0, 1000, 2000, 3000, 4000]
D_yticks = [-0.4, -0.2, 0.0]
F_xticks = [2, 4, 6, 8]
F_yticks = [0.0, 0.1, 0.2, 0.3, 0.4]
H_xticks = [1, 2, 3, 4, 5]
H_yticks = [0.0, 0.1, 0.2]

# panel letters (page position of each letter's centre)
LETTERS = [("A", 100, 58), ("B", 630, 58), ("C", 99, 411), ("D", 630, 411),
           ("E", 99, 750), ("F", 630, 750), ("G", 100, 1112), ("H", 630, 1112)]

# ======================= STYLE / BUILD =======================
SERIF = "Liberation Serif"
DOT = "#3778c2"
ICE = "#1f77b4"
AVG = "#ff7f0e"
TXT = "#333333"


def fmt(v, nd):
    if abs(v) < 1e-12:
        v = 0.0
    s = f"{v:.{nd}f}"
    return s.replace("-", "\u2212")


def base_fig(w, h, bl, br, bt, bb, xr, yr):
    p = figure(width=w, height=h, min_border_left=bl, min_border_right=br,
               min_border_top=bt, min_border_bottom=bb,
               x_range=Range1d(*xr), y_range=Range1d(*yr),
               output_backend="svg", toolbar_location=None, tools="")
    p.grid.visible = False
    p.background_fill_color = "white"
    p.border_fill_color = "white"
    return p


def style_axes(p, xt, xnd, yt, ynd, size, xstand, ystand, tick_out, line_color,
               xlabel, ylabel, xls, yls):
    for ax, ticks, nd in ((p.xaxis[0], xt, xnd), (p.yaxis[0], yt, ynd)):
        ax.ticker = FixedTicker(ticks=ticks)
        ax.major_label_overrides = {t: fmt(t, nd) for t in ticks}
        ax.axis_line_color = line_color
        ax.major_tick_line_color = line_color if tick_out > 0 else None
        ax.major_tick_out = tick_out
        ax.major_tick_in = 0
        ax.minor_tick_line_color = None
        ax.major_label_text_font = SERIF
        ax.major_label_text_font_size = size
        ax.major_label_text_color = TXT
        ax.axis_label_text_font = SERIF
        ax.axis_label_text_font_style = "normal"
        ax.axis_label_text_color = TXT
    p.xaxis[0].major_label_standoff = xstand
    p.yaxis[0].major_label_standoff = ystand
    p.xaxis[0].axis_label = xlabel
    p.yaxis[0].axis_label = ylabel
    p.xaxis[0].axis_label_text_font_size = "15px"
    p.yaxis[0].axis_label_text_font_size = "13.5px"
    p.xaxis[0].axis_label_standoff = xls
    p.yaxis[0].axis_label_standoff = yls


def scatter_panel(cfg, pts, fx, fy, he, hh, hscale, xt, xnd, yt, ynd, xlabel, ylabel, yls):
    p = base_fig(*cfg)
    p.outline_line_color = None
    style_axes(p, xt, xnd, yt, ynd, "13px", 2, 6, 4, TXT, xlabel, ylabel, 0, yls)
    p.extra_y_ranges = {"hist": Range1d(0, hscale)}
    p.quad(left=he[:-1], right=he[1:], bottom=0, top=hh, y_range_name="hist",
           fill_color="#dcdcdc", line_color=None)
    xs = [q[0] for q in pts]
    ys = [q[1] for q in pts]
    p.scatter(xs, ys, size=5.5, fill_color=DOT, line_color=None)
    p.line(fx, fy, line_color="#ef3b3b", line_width=1.1)
    return p


def pdp_panel(cfg, grid, avg, ice, dec, xt, xnd, yt, ynd, xlabel, ylabel, yls):
    p = base_fig(*cfg)
    p.outline_line_color = "#333333"
    p.outline_line_width = 1.5
    style_axes(p, xt, xnd, yt, ynd, "14px", 14, 19, 0, None, xlabel, ylabel, 0, yls)
    p.multi_line(xs=[grid] * len(ice), ys=ice, line_color=ICE, line_alpha=0.45, line_width=1.5)
    r = p.line(grid, avg, line_color=AVG, line_dash="7 3", line_width=2)
    p.extra_y_ranges = {"deco": Range1d(0, 1)}
    p.segment(x0=dec, x1=dec, y0=[0] * len(dec), y1=[0.047] * len(dec), y_range_name="deco",
              line_color="black", line_width=1.5)
    leg = Legend(items=[LegendItem(label="average", renderers=[r])], location="top_left")
    leg.label_text_font = SERIF
    leg.label_text_font_size = "14.5px"
    leg.label_text_color = TXT
    leg.border_line_color = "#cccccc"
    leg.border_line_width = 1.5
    leg.border_radius = 3
    leg.padding = 4
    leg.margin = 6
    leg.glyph_width = 30
    leg.glyph_height = 15
    leg.label_height = 15
    leg.label_standoff = 15
    leg.spacing = 0
    p.add_layout(leg)
    return p


# figures in one column share their left/right borders, so each column uses one pair
pA = scatter_panel((597, 407, 164, 18, 74, 45, (15.25, 99.85), (-1.023, 0.51)),
                   A_pts, A_fit_x, A_fit_y, A_hist_edges, A_hist_h, A_hist_scale,
                   A_xticks, 0, A_yticks, 1, "Age(years)", "SHAP value for\nAge(years)", 9)
pC = scatter_panel((597, 342, 164, 18, 2, 51, (-828, 14583), (-0.658, 1.277)),
                   C_pts, C_fit_x, C_fit_y, C_hist_edges, C_hist_h, C_hist_scale,
                   C_xticks, 0, C_yticks, 2, "Urine output(ml/24h)", "SHAP value for\nUrine output(ml/24h)", 2)
pE = scatter_panel((597, 362, 164, 18, 19, 55, (-0.075, 18.31), (-0.872, 0.903)),
                   E_pts, E_fit_x, E_fit_y, E_hist_edges, E_hist_h, E_hist_scale,
                   E_xticks, 1, E_yticks, 1, "Lactate(mmol/L)", "SHAP value for\nLactate(mmol/L)", 9)
pG = scatter_panel((597, 378, 164, 18, 27, 63, (-0.613, 16.34), (-0.4967, 0.353)),
                   G_pts, G_fit_x, G_fit_y, G_hist_edges, G_hist_h, G_hist_scale,
                   G_xticks, 0, G_yticks, 1, "Creatinine(mg/dL)", "SHAP value for\nCreatinine(mg/dL)", 4)
pB = pdp_panel((677, 411, 79, 82, 72, 57, (40.67, 91.68), (-0.0188, 0.4122)),
               B_grid, B_avg, B_ice, B_deciles, B_xticks, 0, B_yticks, 1,
               "Age(years)", "Partial dependence", 6)
pD = pdp_panel((677, 343, 79, 82, 7, 52, (-76, 4836), (-0.4845, 0.1708)),
               D_grid, D_avg, D_ice, D_deciles, D_xticks, 0, D_yticks, 1,
               "Urine output(ml/24h)", "Partial dependence", 10)
pF = pdp_panel((677, 360, 79, 82, 23, 52, (0.722, 8.318), (-0.0649, 0.4308)),
               F_grid, F_avg, F_ice, F_deciles, F_xticks, 0, F_yticks, 1,
               "Lactate(mmol/L)", "Partial dependence", 6)
pH = pdp_panel((677, 375, 79, 82, 33, 53, (0.41, 5.005), (-0.0895, 0.228)),
               H_grid, H_avg, H_ice, H_deciles, H_xticks, 0, H_yticks, 1,
               "Creatinine(mg/dL)", "Partial dependence", 11)

# overlay: frame lines and panel letters, fixed to page coordinates
overlay = ('<div style="position:fixed;left:10px;top:10px;width:1283px;height:1px;background:#b8b8b8;z-index:50"></div>'
           '<div style="position:fixed;left:10px;top:10px;width:1px;height:1590px;background:#b8b8b8;z-index:50"></div>')
for t, lx, ly in LETTERS:
    overlay += ('<div style="position:fixed;left:%dpx;top:%dpx;transform:translate(-50%%,-50%%);'
                'font-family:\'Liberation Sans\';font-weight:bold;font-size:18px;line-height:20px;'
                'color:#1e1e1e;z-index:60">%s</div>' % (lx, ly, t))

caption_html = (
    '<div style="padding-left:34px;font-family:\'Open Sans\';color:#595959;">'
    '<div style="padding-top:16px;font-size:15px;line-height:17px;">FIGURE 6</div>'
    '<div style="margin-top:5px;font-size:18.4px;line-height:22.5px;white-space:nowrap;">'
    'Scatter plot <b>(A,C,E,G)</b> and PDP <b>(B,D,F,G)</b> of continuous variables in S-CatBoost model. '
    '<b>(A,B)</b> Age; <b>(C,D)</b> urine output; <b>(E,F)</b> lactate; <b>(G,H)</b><br>'
    'creatinine. PDP, partial dependence plot; S-Catboost, simplified Catboost model.</div></div>'
    + overlay)
caption = Div(text=caption_html, width=1277, height=88, margin=0)
# spacers reproduce the 8px page margin plus the 3px gap to the frame line
top_space = Div(text="", width=1285, height=11, margin=0)
left_space = Div(text="", width=11, height=1489, margin=0)

left_col = column(pA, pC, pE, pG, spacing=0)
right_col = column(pB, pD, pF, pH, spacing=0)
layout = column(top_space, row(left_space, left_col, right_col, spacing=0), caption, spacing=0)

with open("out.html", "w") as f:
    f.write(file_html(layout, INLINE, title="Figure 6"))
